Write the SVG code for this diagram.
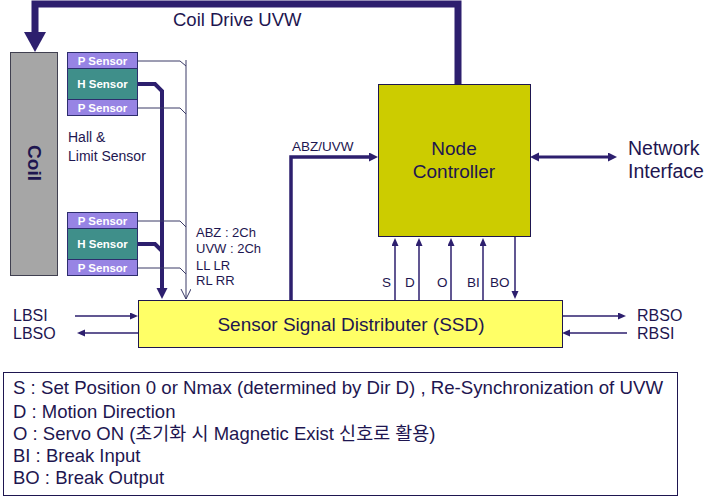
<svg xmlns="http://www.w3.org/2000/svg" width="716" height="497" viewBox="0 0 716 497">
<style>
.t{font-family:"Liberation Sans",Arial,"Noto Sans CJK KR",sans-serif;fill:#1E1650}
.sb{font-family:"Liberation Sans",Arial,sans-serif;font-weight:bold;font-size:11.5px;fill:#FFFFFF;text-anchor:middle}
.ps{fill:#9784E4;stroke:#2D2D6E;stroke-width:1}
.hs{fill:#3F8F8A;stroke:#2D2D6E;stroke-width:1}
.thin{stroke:#3A3A66;stroke-width:1;fill:none}
.sig{stroke:#2D1F6E;stroke-width:1.5;fill:none}
.bold{stroke:#2D1F6E;fill:none;stroke-linejoin:miter}
.lg{font-size:18.5px}
</style>
<defs>
<marker id="big" markerUnits="userSpaceOnUse" markerWidth="22" markerHeight="22" refX="0" refY="11" orient="auto"><path d="M0,0 L20,11 L0,22 z" fill="#2D1F6E"/></marker>
<marker id="hArr" markerUnits="userSpaceOnUse" markerWidth="12" markerHeight="12" refX="0" refY="5.5" orient="auto"><path d="M0,0 L11,5.5 L0,11 z" fill="#2D1F6E"/></marker>
<marker id="mid" markerUnits="userSpaceOnUse" markerWidth="10" markerHeight="10" refX="0" refY="4.5" orient="auto-start-reverse"><path d="M0,0 L9,4.5 L0,9 z" fill="#2D1F6E"/></marker>
<marker id="sm" markerUnits="userSpaceOnUse" markerWidth="9" markerHeight="9" refX="0" refY="3.5" orient="auto"><path d="M0,0 L8,3.5 L0,7 z" fill="#2D1F6E"/></marker>
<marker id="open" markerUnits="userSpaceOnUse" markerWidth="12" markerHeight="12" refX="10" refY="5" orient="auto"><path d="M0,0 L10,5 L0,10" fill="none" stroke="#3A3A66" stroke-width="1"/></marker>
</defs>

<g id="connectors">
<path class="bold" stroke-width="7" d="M458,84 V4 H35 V32" marker-end="url(#big)"/>
<path class="bold" stroke-width="4" d="M138,84 H155 L162,91 V288" marker-end="url(#hArr)"/>
<path class="bold" stroke-width="4" d="M138,244 H155 L162,251"/>
<path class="thin" d="M138,61 H180 L186,66"/>
<path class="thin" d="M138,108 H180 L186,114"/>
<path class="thin" d="M138,221 H180 L186,227"/>
<path class="thin" d="M138,268 H180 L186,274"/>
<path class="thin" d="M186,60 V299" marker-end="url(#open)"/>
<path class="bold" stroke-width="3.5" d="M291,300 V157 H369" marker-end="url(#mid)"/>
<path class="bold" stroke-width="3" d="M539,157 H608" marker-start="url(#mid)" marker-end="url(#mid)"/>
<path class="sig" d="M395,300 V246" marker-end="url(#sm)"/>
<path class="sig" d="M419,300 V246" marker-end="url(#sm)"/>
<path class="sig" d="M451,300 V246" marker-end="url(#sm)"/>
<path class="sig" d="M483,300 V246" marker-end="url(#sm)"/>
<path class="sig" d="M515,236 V291" marker-end="url(#sm)"/>
<path class="sig" d="M75,316 H130" marker-end="url(#sm)"/>
<path class="sig" d="M138,333 H85" marker-end="url(#sm)"/>
<path class="sig" d="M562,316 H618" marker-end="url(#sm)"/>
<path class="sig" d="M627,333 H570" marker-end="url(#sm)"/>
</g>

<g id="coil">
<rect x="10.5" y="52.5" width="47" height="223" fill="#A6A6A6" stroke="#404050" stroke-width="1"/>
<text class="t" transform="translate(34,163) rotate(90)" x="0" y="6.5" text-anchor="middle" font-size="19" font-weight="bold">Coil</text>
</g>

<g id="p-sensor-1"><rect class="ps" x="67.5" y="52.5" width="70" height="16"/><text class="sb" x="102.5" y="64.5">P Sensor</text></g>
<g id="h-sensor-1"><rect class="hs" x="67.5" y="68.5" width="70" height="31"/><text class="sb" x="102.5" y="88">H Sensor</text></g>
<g id="p-sensor-2"><rect class="ps" x="67.5" y="99.5" width="70" height="16"/><text class="sb" x="102.5" y="111.5">P Sensor</text></g>
<g id="p-sensor-3"><rect class="ps" x="67.5" y="212.5" width="70" height="16"/><text class="sb" x="102.5" y="224.5">P Sensor</text></g>
<g id="h-sensor-2"><rect class="hs" x="67.5" y="228.5" width="70" height="31"/><text class="sb" x="102.5" y="248">H Sensor</text></g>
<g id="p-sensor-4"><rect class="ps" x="67.5" y="259.5" width="70" height="16"/><text class="sb" x="102.5" y="271.5">P Sensor</text></g>

<g id="labels">
<text class="t" x="173" y="26" font-size="18.5">Coil Drive UVW</text>
<text class="t" x="68" y="142" font-size="14">Hall &amp;</text>
<text class="t" x="68" y="161" font-size="14">Limit Sensor</text>
<text class="t" x="196" y="237" font-size="13">ABZ : 2Ch</text>
<text class="t" x="196" y="253" font-size="13">UVW : 2Ch</text>
<text class="t" x="196" y="270" font-size="13">LL LR</text>
<text class="t" x="196" y="285" font-size="13">RL RR</text>
<text class="t" x="292" y="151" font-size="13.5">ABZ/UVW</text>
<text class="t" x="628" y="155" font-size="19.5">Network</text>
<text class="t" x="628" y="178" font-size="19.5">Interface</text>
<text class="t" x="382" y="287" font-size="13.5">S</text>
<text class="t" x="405" y="287" font-size="13.5">D</text>
<text class="t" x="437" y="287" font-size="13.5">O</text>
<text class="t" x="467" y="287" font-size="13.5">BI</text>
<text class="t" x="490" y="287" font-size="13.5">BO</text>
<text class="t" x="13" y="321" font-size="16">LBSI</text>
<text class="t" x="13" y="339" font-size="16">LBSO</text>
<text class="t" x="637" y="321" font-size="16">RBSO</text>
<text class="t" x="637" y="339" font-size="16">RBSI</text>
</g>

<g id="node-controller">
<rect x="378.5" y="84.5" width="152" height="152" fill="#CCCC00" stroke="#1E1650" stroke-width="1"/>
<text class="t" x="454" y="155" font-size="19" text-anchor="middle">Node</text>
<text class="t" x="454" y="178" font-size="19" text-anchor="middle">Controller</text>
</g>

<g id="ssd">
<rect x="138.5" y="300.5" width="424" height="47" fill="#FFFF66" stroke="#1E1650" stroke-width="1"/>
<text class="t" x="351" y="331" font-size="19" text-anchor="middle">Sensor Signal Distributer (SSD)</text>
</g>

<g id="legend">
<rect x="3.5" y="372.5" width="674" height="123" fill="#FFFFFF" stroke="#1E1650" stroke-width="1"/>
<text class="t lg" x="13" y="394" textLength="650" lengthAdjust="spacingAndGlyphs">S : Set Position 0 or Nmax (determined by Dir D) , Re-Synchronization of UVW</text>
<text class="t lg" x="13" y="418">D : Motion Direction</text>
<text class="t lg" x="13" y="440">O : Servo ON (초기화 시  Magnetic Exist 신호로 활용)</text>
<text class="t lg" x="13" y="462">BI : Break Input</text>
<text class="t lg" x="13" y="484">BO : Break Output</text>
</g>
</svg>
